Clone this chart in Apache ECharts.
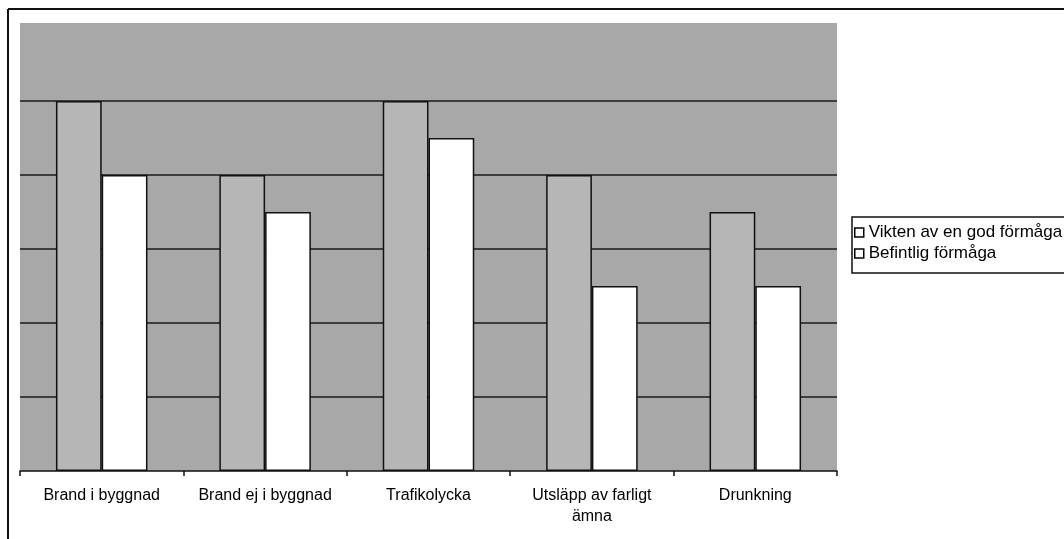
<!DOCTYPE html>
<html>
<head>
<meta charset="utf-8">
<script src="https://cdn.jsdelivr.net/npm/echarts@6/dist/echarts.min.js"></script>
<style>
html,body{margin:0;padding:0;background:#fff;}
#chart{width:1064px;height:539px;}
</style>
</head>
<body>
<div id="chart"></div>
<script>
var categories = ['Brand i byggnad', 'Brand ej i byggnad', 'Trafikolycka', 'Utsläpp av farligt\nämna', 'Drunkning'];
var seriesNames = ['Vikten av en god förmåga', 'Befintlig förmåga'];
var vikten = [5, 4, 5, 4, 3.5];
var befintlig = [4, 3.5, 4.5, 2.5, 2.5];

var chart = echarts.init(document.getElementById('chart'), null, {renderer: 'canvas'});
var font = 'Liberation Sans, Arial, sans-serif';
chart.setOption({
  animation: false,
  backgroundColor: '#ffffff',
  textStyle: {fontFamily: font},
  grid: {
    left: 20, right: 227, top: 27, bottom: 68,
    show: true, backgroundColor: '#a8a8a8', borderWidth: 0
  },
  graphic: [
    {type: 'rect', shape: {x: 20, y: 23, width: 817, height: 5}, style: {fill: '#a8a8a8'}, z: 0, silent: true},
    {type: 'line', shape: {x1: 8, y1: 9, x2: 1064, y2: 9}, style: {stroke: '#111', lineWidth: 2}},
    {type: 'line', shape: {x1: 8, y1: 9, x2: 8, y2: 539}, style: {stroke: '#111', lineWidth: 2}}
  ],
  legend: {
    orient: 'vertical',
    left: 852, top: 217,
    padding: [7, 4, 11, 2],
    itemGap: 4,
    itemWidth: 9, itemHeight: 9,
    itemTextGap: 8,
    icon: 'rect',
    borderColor: '#111', borderWidth: 1.5,
    textStyle: {fontFamily: font, fontSize: 17, color: '#000', lineHeight: 17},
    data: [
      {name: seriesNames[0], itemStyle: {color: '#fff', borderColor: '#000', borderWidth: 1.5}},
      {name: seriesNames[1], itemStyle: {color: '#fff', borderColor: '#000', borderWidth: 1.5}}
    ]
  },
  xAxis: {
    type: 'category',
    data: categories,
    axisLine: {lineStyle: {color: '#111', width: 1.5}},
    axisTick: {show: true, length: 5, lineStyle: {color: '#111', width: 1.5}},
    axisLabel: {fontFamily: font, fontSize: 16, color: '#000', margin: 14, lineHeight: 21, interval: 0}
  },
  yAxis: {
    type: 'value',
    min: 0, max: 6, interval: 1,
    axisLine: {show: false},
    axisTick: {show: false},
    axisLabel: {show: false},
    splitLine: {show: true, showMaxLine: false, showMinLine: false, lineStyle: {color: '#1a1a1a', width: 1.5}}
  },
  series: [
    {
      name: seriesNames[0], type: 'bar', data: vikten,
      barGap: '0%', barCategoryGap: '44%',
      itemStyle: {color: '#b6b6b6', borderColor: '#111', borderWidth: 1.5}
    },
    {
      name: seriesNames[1], type: 'bar', data: befintlig,
      itemStyle: {color: '#ffffff', borderColor: '#111', borderWidth: 1.5}
    }
  ]
});
</script>
</body>
</html>
